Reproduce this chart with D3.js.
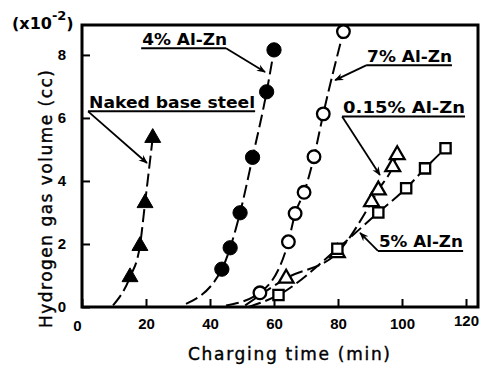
<!DOCTYPE html>
<html>
<head>
<meta charset="utf-8">
<script src="https://cdn.jsdelivr.net/npm/d3@7"></script>
<style>
  body { margin: 0; background: #fff; }
  svg { display: block; }
</style>
</head>
<body>
<svg id="chart" width="485" height="367"></svg>
<script>
// values: charging time (min) and H2 volume (x10^-2 cc)
const nakedTime = [15, 18.1, 19.7, 22.1];
const nakedVol = [0.95, 1.94, 3.3, 5.37];
const al4Time = [43.7, 46.3, 49.4, 53.3, 57.7, 60];
const al4Vol = [1.2, 1.88, 2.99, 4.75, 6.83, 8.16];
const al7Time = [55.6, 64.5, 66.6, 69.4, 72.5, 75.4, 81.7];
const al7Vol = [0.45, 2.07, 2.97, 3.64, 4.77, 6.13, 8.74];
const al015Time = [63.8, 79.8, 90.5, 92.6, 97.1, 98.5];
const al015Vol = [0.91, 1.72, 3.34, 3.71, 4.45, 4.83];
const al5Time = [61.4, 79.8, 92.6, 101.3, 107.2, 113.6];
const al5Vol = [0.38, 1.85, 3.0, 3.77, 4.4, 5.04];

// where each hand drawn fit curve leaves the time axis
const nakedStart = [9.7, 0.05];
const al4Start = [32.5, 0.1];
const al7Start = [45, 0.05];
const al015Start = [51, 0.05];
const al5Start = [52, 0.0];

const xTicks = [0, 20, 40, 60, 80, 100, 120];
const yTicks = [0, 2, 4, 6, 8];

// annotations: label, text x, baseline y, underline end x, arrow tip [x, y]
const notes = [
  { label: "4% Al-Zn", x: 18.8, y: 8.32, x2: 45, tip: [57.2, 7.46], w: 85 },
  { label: "Naked base steel", x: 2.2, y: 6.32, x2: 54.1, tip: [20.3, 4.57], w: 166, fromStart: true },
  { label: "7% Al-Zn", x: 89.1, y: 7.78, x2: 115.6, tip: [79.1, 7.2], w: 85, fromStart: true },
  { label: "0.15% Al-Zn", x: 81.6, y: 6.16, x2: 119.7, tip: [93.1, 4.19], w: 122, fromStart: true },
  { label: "5% Al-Zn", x: 92.8, y: 1.89, x2: 119.1, tip: [86.9, 2.35], w: 84, fromStart: true }
];

const svg = d3.select("#chart");
const margin = { top: 25, right: 7, bottom: 60, left: 82 };
const width = 485 - margin.left - margin.right;
const height = 367 - margin.top - margin.bottom;

const x = d3.scaleLinear().domain([0, 123.75]).range([0, width]);
const y = d3.scaleLinear().domain([0, 8.95]).range([height, 0]);

const g = svg.append("g").attr("transform", `translate(${margin.left},${margin.top})`);

const defs = svg.append("defs");
defs.append("marker")
  .attr("id", "arrow")
  .attr("viewBox", "0 0 10 10")
  .attr("refX", 9)
  .attr("refY", 5)
  .attr("markerWidth", 9)
  .attr("markerHeight", 9)
  .attr("markerUnits", "userSpaceOnUse")
  .attr("orient", "auto")
  .append("path")
  .attr("d", "M0,1 L10,5 L0,9 L3,5 Z")
  .attr("fill", "#000");

// axes with inward ticks
const xAxis = g.append("g")
  .attr("transform", `translate(0,${height})`)
  .call(d3.axisBottom(x).tickValues(xTicks).tickSize(-8).tickPadding(11));
const yAxis = g.append("g")
  .call(d3.axisLeft(y).tickValues(yTicks).tickSize(-8).tickPadding(16));

[xAxis, yAxis].forEach((a) => {
  a.select(".domain").remove();
  a.selectAll("line").attr("stroke", "#000").attr("stroke-width", 2);
  a.selectAll("text")
    .attr("fill", "#000")
    .style("font-family", "'Liberation Sans', Arial, sans-serif")
    .style("font-weight", "bold")
    .style("font-size", "15px");
});
xAxis.selectAll(".tick").filter((d) => d === 0).select("text").attr("x", -5).attr("y", 13);
xAxis.selectAll(".tick").filter((d) => d === 120).select("text").attr("y", 8);

// frame
g.append("rect")
  .attr("width", width)
  .attr("height", height)
  .attr("fill", "none")
  .attr("stroke", "#000")
  .attr("stroke-width", 3);

// fit curves
const line = d3.line()
  .x((d) => x(d[0]))
  .y((d) => y(d[1]))
  .curve(d3.curveMonotoneX);

const series = [
  { t: nakedTime, v: nakedVol, start: nakedStart, sym: d3.symbolTriangle, fill: "#000", size: 110 },
  { t: al4Time, v: al4Vol, start: al4Start, sym: d3.symbolCircle, fill: "#000", size: 160 },
  { t: al7Time, v: al7Vol, start: al7Start, sym: d3.symbolCircle, fill: "#fff", size: 125 },
  { t: al015Time, v: al015Vol, start: al015Start, sym: d3.symbolTriangle, fill: "#fff", size: 95 },
  { t: al5Time, v: al5Vol, start: al5Start, sym: d3.symbolSquare, fill: "#fff", size: 105 }
];

series.forEach((s) => {
  const pts = [s.start].concat(s.t.map((t, i) => [t, s.v[i]]));
  g.append("path")
    .attr("d", line(pts))
    .attr("fill", "none")
    .attr("stroke", "#000")
    .attr("stroke-width", 2)
    .attr("stroke-dasharray", "13,5");
});

series.forEach((s) => {
  g.append("g")
    .selectAll("path")
    .data(s.t.map((t, i) => [t, s.v[i]]))
    .join("path")
    .attr("transform", (d) => `translate(${x(d[0])},${y(d[1])})`)
    .attr("d", d3.symbol(s.sym, s.size))
    .attr("fill", s.fill)
    .attr("stroke", "#000")
    .attr("stroke-width", s.fill === "#000" ? 1 : 2.3);
});

// annotations
const labelFont = "'DejaVu Sans', Verdana, sans-serif";
notes.forEach((n) => {
  g.append("text")
    .attr("x", x(n.x))
    .attr("y", y(n.y))
    .attr("textLength", n.w)
    .attr("lengthAdjust", "spacingAndGlyphs")
    .style("font-family", labelFont)
    .style("font-weight", "bold")
    .style("font-size", "15px")
    .text(n.label);
  const uy = y(n.y) + 3.5;
  g.append("line")
    .attr("x1", x(n.x) - 1).attr("x2", x(n.x2))
    .attr("y1", uy).attr("y2", uy)
    .attr("stroke", "#000").attr("stroke-width", 2);
  const sx = n.fromStart ? x(n.x) - 1 : x(n.x2);
  g.append("line")
    .attr("x1", sx).attr("y1", uy)
    .attr("x2", x(n.tip[0])).attr("y2", y(n.tip[1]))
    .attr("stroke", "#000").attr("stroke-width", 1.8)
    .attr("marker-end", "url(#arrow)");
});

// unit label
const unit = svg.append("text")
  .attr("x", 12)
  .attr("y", 29)
  .style("font-family", labelFont)
  .style("font-weight", "bold")
  .style("font-size", "16px");
unit.append("tspan").text("(x10");
unit.append("tspan").attr("dy", -9).style("font-size", "13px").text("-2");
unit.append("tspan").attr("dy", 9).text(")");

// axis titles
svg.append("text")
  .attr("x", 289)
  .attr("y", 360)
  .attr("text-anchor", "middle")
  .attr("textLength", 202)
  .style("font-family", labelFont)
  .style("font-size", "17px")
  .style("stroke", "#000")
  .style("stroke-width", 0.4)
  .text("Charging time (min)");

svg.append("text")
  .attr("transform", "translate(52,199) rotate(-90)")
  .attr("text-anchor", "middle")
  .attr("textLength", 258)
  .style("font-family", labelFont)
  .style("font-size", "17px")
  .style("stroke", "#000")
  .style("stroke-width", 0.4)
  .text("Hydrogen gas volume (cc)");
</script>
</body>
</html>
